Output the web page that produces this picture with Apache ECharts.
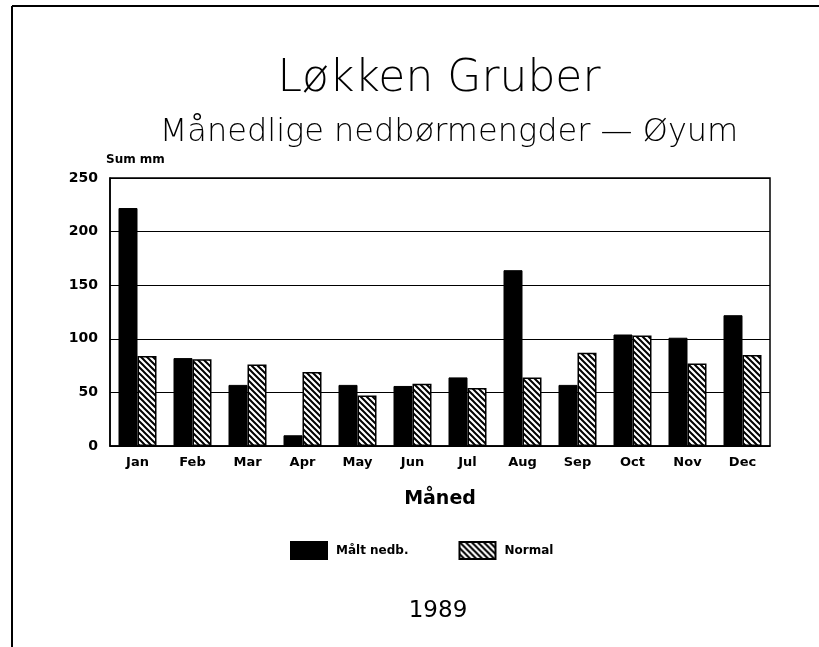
<!DOCTYPE html>
<html>
<head>
<meta charset="utf-8">
<script src="https://cdn.jsdelivr.net/npm/echarts@6/dist/echarts.min.js"></script>
<style>
  html, body { margin: 0; padding: 0; background: #fff; }
  #chart { width: 819px; height: 647px; }
</style>
</head>
<body>
<div id="chart"></div>
<script>
// data
const months = ['Jan', 'Feb', 'Mar', 'Apr', 'May', 'Jun', 'Jul', 'Aug', 'Sep', 'Oct', 'Nov', 'Dec'];
const maltNedb = [222, 82, 57, 10, 57, 56, 64, 164, 57, 104, 101, 122];
const normal = [84, 81, 76, 69, 47, 58, 54, 64, 87, 103, 77, 85];
const yTicks = [0, 50, 100, 150, 200, 250];

const fontMain = '"DejaVu Sans", sans-serif';

// hatch for "Normal" bars
function makeHatch() {
  const c = document.createElement('canvas');
  c.width = 6; c.height = 6;
  const ctx = c.getContext('2d');
  ctx.fillStyle = '#fff';
  ctx.fillRect(0, 0, 6, 6);
  ctx.strokeStyle = '#000';
  ctx.lineWidth = 2;
  ctx.beginPath();
  ctx.moveTo(-1, -1); ctx.lineTo(7, 7);
  ctx.moveTo(-4, 2); ctx.lineTo(1, 7);
  ctx.moveTo(5, -1); ctx.lineTo(8, 2);
  ctx.stroke();
  return c;
}
const hatch = { image: makeHatch(), repeat: 'repeat' };

const chart = echarts.init(document.getElementById('chart'));
chart.setOption({
  animation: false,
  backgroundColor: '#fff',
  title: [
    {
      text: 'Løkken Gruber',
      left: 434,
      textAlign: 'center',
      top: 53,
      textStyle: { fontFamily: fontMain, fontSize: 44, fontWeight: 'lighter', color: '#000' }
    },
    {
      text: 'Månedlige nedbørmengder — Øyum',
      left: 444,
      textAlign: 'center',
      top: 112,
      textStyle: { fontFamily: fontMain, fontSize: 32, fontWeight: 'lighter', color: '#000' }
    },
    {
      text: '1989',
      left: 433,
      textAlign: 'center',
      top: 595,
      textStyle: { fontFamily: fontMain, fontSize: 23, fontWeight: 'normal', color: '#000' }
    }
  ],
  graphic: [
    { type: 'line', shape: { x1: 12, y1: 6, x2: 819, y2: 6 }, style: { stroke: '#000', lineWidth: 2 } },
    { type: 'line', shape: { x1: 12, y1: 6, x2: 12, y2: 647 }, style: { stroke: '#000', lineWidth: 2 } }
  ],
  legend: {
    top: 536,
    left: 285,
    itemWidth: 36,
    itemHeight: 17,
    itemGap: 50,
    icon: 'rect',
    textStyle: { fontFamily: fontMain, fontSize: 12, fontWeight: 'bold', color: '#000', padding: [0, 0, 0, 4] },
    data: ['Målt nedb.', 'Normal']
  },
  grid: {
    left: 110,
    right: 49,
    top: 178,
    bottom: 201,
    show: true,
    borderColor: '#000',
    borderWidth: 1.5
  },
  xAxis: {
    type: 'category',
    data: months,
    name: 'Måned',
    nameLocation: 'middle',
    nameGap: 44,
    nameTextStyle: { fontFamily: fontMain, fontSize: 19, fontWeight: 'bold', color: '#000' },
    axisLine: { lineStyle: { color: '#000', width: 1.5 } },
    axisTick: { show: false },
    axisLabel: { fontFamily: fontMain, fontSize: 13, fontWeight: 'bold', color: '#000', margin: 10 }
  },
  yAxis: {
    type: 'value',
    min: yTicks[0],
    max: yTicks[yTicks.length - 1],
    interval: 50,
    name: 'Sum mm',
    nameLocation: 'end',
    nameGap: 12,
    nameTextStyle: { fontFamily: fontMain, fontSize: 12, fontWeight: 'bold', color: '#000', align: 'left', padding: [0, 0, 0, -4] },
    axisLine: { show: true, lineStyle: { color: '#000', width: 1.5 } },
    axisTick: { show: false },
    axisLabel: { fontFamily: fontMain, fontSize: 14, fontWeight: 'bold', color: '#000', margin: 12 },
    splitLine: { lineStyle: { color: '#000', width: 1.2 } }
  },
  series: [
    {
      name: 'Målt nedb.',
      type: 'bar',
      data: maltNedb,
      barWidth: 19,
      barGap: '0%',
      itemStyle: { color: '#000', borderColor: '#000', borderWidth: 1 }
    },
    {
      name: 'Normal',
      type: 'bar',
      data: normal,
      barWidth: 19,
      itemStyle: { color: hatch, borderColor: '#000', borderWidth: 1.5 }
    }
  ]
});
</script>
</body>
</html>
